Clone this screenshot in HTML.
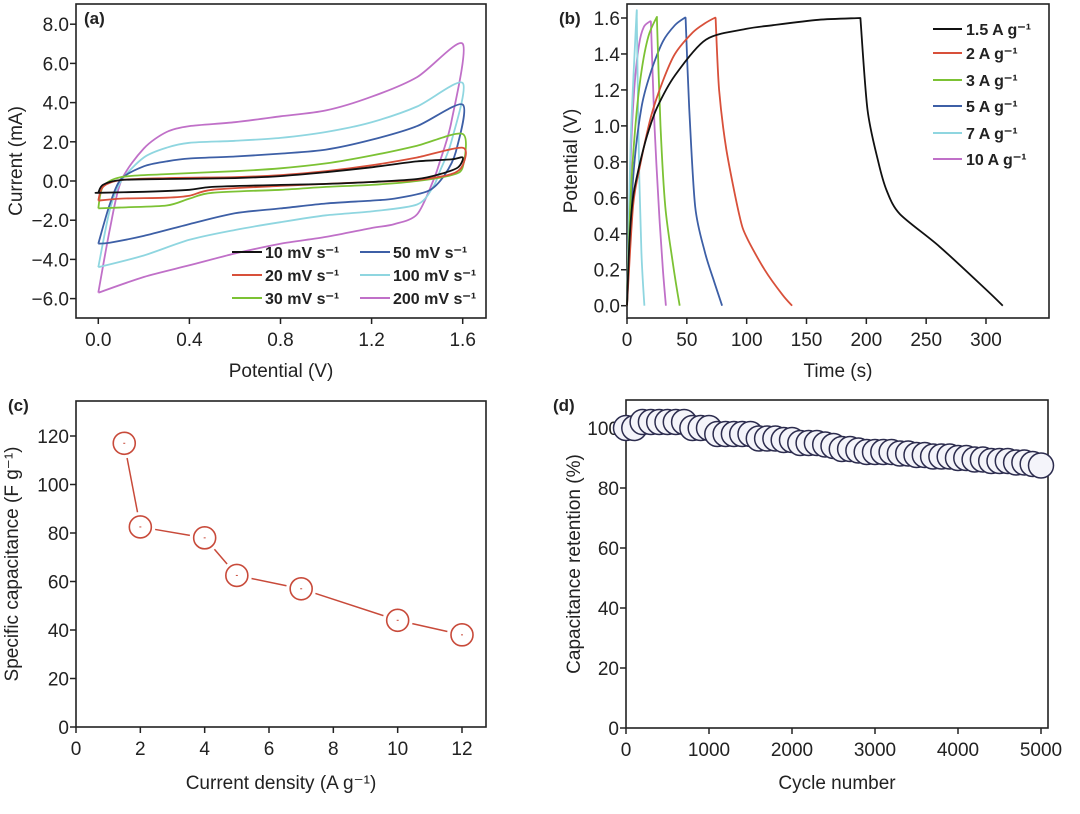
<!DOCTYPE html>
<html><head><meta charset="utf-8"><style>
html,body{margin:0;padding:0;background:#fff;}
svg{display:block;font-family:"Liberation Sans",Arial,sans-serif;}
</style></head><body>
<svg id="fig" width="1080" height="814" viewBox="0 0 1080 814" xmlns="http://www.w3.org/2000/svg"></svg>
<script>
// ---------- Panel (a) data ----------
const cvLabels = ["10 mV s\u207B\u00B9","20 mV s\u207B\u00B9","30 mV s\u207B\u00B9","50 mV s\u207B\u00B9","100 mV s\u207B\u00B9","200 mV s\u207B\u00B9"];
const cvColors = ["#111111","#d8503a","#7cc234","#3d5fa6","#8fd6e0","#c070c8"];
const cv10V = [0,0.02,0.1,0.3,0.6,0.8,1.0,1.2,1.4,1.55,1.6,1.58,1.5,1.4,1.2,1.0,0.8,0.5,0.4,0.2,0,0];
const cv10I = [-0.6,-0.2,0.05,0.1,0.15,0.25,0.45,0.7,1.0,1.1,1.2,0.7,0.35,0.1,-0.05,-0.15,-0.2,-0.3,-0.45,-0.55,-0.6,-0.6];
const cv20V = [0,0.02,0.1,0.3,0.6,0.8,1.0,1.2,1.4,1.6,1.6,1.55,1.4,1.2,1.0,0.8,0.5,0.4,0.3,0.1,0];
const cv20I = [-1.0,-0.3,0.05,0.15,0.2,0.3,0.5,0.8,1.2,1.7,0.8,0.35,0.05,-0.05,-0.15,-0.25,-0.45,-0.75,-0.85,-0.9,-1.0];
const cv30V = [0,0.02,0.1,0.3,0.6,0.8,1.0,1.2,1.4,1.6,1.6,1.55,1.4,1.2,1.0,0.8,0.5,0.4,0.3,0.1,0];
const cv30I = [-1.4,-0.3,0.2,0.35,0.5,0.65,0.9,1.3,1.8,2.4,0.7,0.3,0,-0.2,-0.3,-0.45,-0.6,-0.9,-1.25,-1.35,-1.4];
const cv50V = [0,0.05,0.1,0.2,0.3,0.4,0.6,0.8,1.0,1.2,1.4,1.6,1.57,1.52,1.45,1.3,1.2,1.0,0.8,0.6,0.4,0.2,0.05,0];
const cv50I = [-3.2,-1.2,0.1,0.75,1.0,1.15,1.25,1.4,1.6,2.1,2.8,3.9,1.5,0.3,-0.5,-0.9,-1.0,-1.15,-1.4,-1.65,-2.2,-2.8,-3.15,-3.2];
const cv100V = [0,0.05,0.1,0.2,0.3,0.4,0.6,0.8,1.0,1.2,1.4,1.6,1.55,1.5,1.47,1.4,1.2,1.0,0.8,0.6,0.4,0.2,0];
const cv100I = [-4.4,-1.5,0,1.2,1.7,1.95,2.05,2.2,2.5,3.0,3.8,5.0,2.0,0.5,-0.3,-1.2,-1.55,-1.75,-2.1,-2.5,-3.0,-3.8,-4.4];
const cv200V = [0,0.05,0.1,0.2,0.3,0.4,0.6,0.8,1.0,1.2,1.4,1.6,1.55,1.5,1.47,1.4,1.3,1.2,1.0,0.8,0.6,0.4,0.2,0];
const cv200I = [-5.7,-2.5,0,1.66,2.5,2.8,3.0,3.3,3.6,4.3,5.3,7.0,3.0,1.0,0,-1.7,-2.2,-2.4,-2.85,-3.2,-3.7,-4.3,-4.9,-5.7];
const cvXTicks = [0,0.4,0.8,1.2,1.6];
const cvYTicks = [-6,-4,-2,0,2,4,6,8];

// ---------- Panel (b) data ----------
const gcdLabels = ["1.5 A g\u207B\u00B9","2 A g\u207B\u00B9","3 A g\u207B\u00B9","5 A g\u207B\u00B9","7 A g\u207B\u00B9","10 A g\u207B\u00B9"];
const gcdColors = ["#111111","#d8503a","#7cc234","#3d5fa6","#8fd6e0","#c070c8"];
const gcd15T = [0,2,5,10,17,25,40,66,100,122,160,195,201,210,217,228,261,300,314];
const gcd15V = [0,0.35,0.6,0.77,0.95,1.1,1.28,1.48,1.54,1.56,1.59,1.6,1.09,0.8,0.64,0.51,0.33,0.09,0];
const gcd2T = [0,5,10,20,30,40,55,65,73,74,77,83,94,100,115,130,138];
const gcd2V = [0,0.55,0.75,1.05,1.25,1.4,1.52,1.57,1.6,1.6,1.2,0.87,0.5,0.38,0.2,0.06,0];
const gcd3T = [0,3,7,12,18,24.5,25,28,32,38,44];
const gcd3V = [0,0.6,1.0,1.3,1.5,1.6,1.6,1.0,0.55,0.25,0];
const gcd5T = [0,5,12,20,30,40,48,49,52,57,65,72,79.5];
const gcd5V = [0,0.7,1.1,1.3,1.47,1.56,1.6,1.6,1.1,0.55,0.3,0.15,0];
const gcd7T = [0,3,7.8,8.2,10,12,14.5];
const gcd7V = [0,0.9,1.6,1.6,0.8,0.3,0];
const gcd10T = [0,3,6,10,14,19,20,23,27,30,32.5];
const gcd10V = [0,0.8,1.2,1.45,1.55,1.58,1.58,1.0,0.5,0.2,0];
const gcdXTicks = [0,50,100,150,200,250,300];
const gcdYTicks = [0,0.2,0.4,0.6,0.8,1.0,1.2,1.4,1.6];

// ---------- Panel (c) data ----------
const rateDensity = [1.5,2,4,5,7,10,12];
const rateCap = [117,82.5,78,62.5,57,44,38];
const rateXTicks = [0,2,4,6,8,10,12];
const rateYTicks = [0,20,40,60,80,100,120];

// ---------- Panel (d) data ----------
const cycleRetention = [100,100,102,102,102,102,102,102,100,100,100,98,98,98,98,98,96.5,96.5,96.5,96,96,95,95,95,94.5,94,93,93,92.5,92,92,92,92,91.5,91.5,91,91,90.5,90.5,90.5,90,90,89.5,89.5,89,89,89,88.5,88.5,88,87.5];
const cycleStep = 100;
const cycXTicks = [0,1000,2000,3000,4000,5000];
const cycYTicks = [0,20,40,60,80,100];

const NS="http://www.w3.org/2000/svg";
const svg=document.getElementById('fig');
function mk(tag,attrs,parent){const e=document.createElementNS(NS,tag);for(const k in attrs)e.setAttribute(k,attrs[k]);(parent||svg).appendChild(e);return e;}
function txt(s,x,y,size,anchor,parent,weight){const t=mk('text',{x:x,y:y,'font-size':size,'text-anchor':anchor||'middle',fill:'#222'},parent);if(weight)t.setAttribute('font-weight',weight);t.textContent=s;return t;}
function lin(d0,d1,r0,r1){return v=>r0+(v-d0)*(r1-r0)/(d1-d0);}

function axesBox(name,x0,y0,x1,y1,xs,ys,xt,yt,xfmt,yfmt,xtitle,ytitle,xtY,ytX,tag,tagX,tagY){
  const g=mk('g',{},svg);
  
  
  const b=mk('rect',{x:x0,y:y0,width:x1-x0,height:y1-y0,fill:'none',stroke:'#222','stroke-width':1.6},g);
  
  
  xt.forEach(v=>{const x=xs(v);mk('line',{x1:x,x2:x,y1:y1,y2:y1+6,stroke:'#222','stroke-width':1.5},g);
    const t=txt(xfmt(v),x,y1+28,19,'middle',g);
    
    });
  yt.forEach(v=>{const y=ys(v);mk('line',{x1:x0-6,x2:x0,y1:y,y2:y,stroke:'#222','stroke-width':1.5},g);
    const t=txt(yfmt(v),x0-7,y+7,19,'end',g);
    
    });
  const xtl=txt(xtitle,(x0+x1)/2,xtY,19,'middle',g);
  
  
  const cy=(y0+y1)/2;
  const ytl=mk('text',{x:ytX,y:cy,'font-size':19,'text-anchor':'middle',fill:'#222',transform:`rotate(-90 ${ytX} ${cy})`},g);
  ytl.innerHTML=ytitle;
  
  
  const pl=txt(tag,tagX,tagY,17,'start',g,'bold');
  
  
  return g;
}
function smoothSeg(P,first){
  let d=first?'M'+P[0][0].toFixed(1)+','+P[0][1].toFixed(1):'';
  for(let i=0;i<P.length-1;i++){
    const p0=P[Math.max(0,i-1)],p1=P[i],p2=P[i+1],p3=P[Math.min(P.length-1,i+2)];
    const t=0.14;
    const c1=[p1[0]+(p2[0]-p0[0])*t,p1[1]+(p2[1]-p0[1])*t];
    const c2=[p2[0]-(p3[0]-p1[0])*t,p2[1]-(p3[1]-p1[1])*t];
    d+=` C${c1[0].toFixed(1)},${c1[1].toFixed(1)} ${c2[0].toFixed(1)},${c2[1].toFixed(1)} ${p2[0].toFixed(1)},${p2[1].toFixed(1)}`;
  }
  return d;
}
function curve(xsArr,ysArr,xs,ys,color,name,split){
  const P=xsArr.map((v,i)=>[xs(v),ys(ysArr[i])]);
  let d;
  if(split){
    // split charge / discharge at the last point of maximum value so the corner stays sharp
    let m=0;ysArr.forEach((v,i)=>{if(v>=ysArr[m])m=i;});
    d=smoothSeg(P.slice(0,m+1),true)+smoothSeg(P.slice(m),false);
  } else d=smoothSeg(P,true);
  const p=mk('path',{d:d,fill:'none',stroke:color,'stroke-width':1.8,'stroke-linejoin':'round'});
  
  
  return p;
}

// Panel a
{
  const xs=lin(0,1.6,98.3,462.7), ys=lin(0,2,181,141.8);
  axesBox('cv',76,4,486,318,xs,ys,cvXTicks,cvYTicks,v=>v.toFixed(1),v=>(v<0?'\u2212':'')+Math.abs(v).toFixed(1),'Potential (V)','Current (mA)',377,22,'(a)',84,24);
  const V=[cv10V,cv20V,cv30V,cv50V,cv100V,cv200V], I=[cv10I,cv20I,cv30I,cv50I,cv100I,cv200I];
  for(let k=5;k>=0;k--) curve(V[k],I[k],xs,ys,cvColors[k],'cv-curve-'+k,false);
  const pos=[[232,257],[232,280],[232,303],[360,257],[360,280],[360,303]];
  cvLabels.forEach((l,k)=>{const g=mk('g',{});
    
    
    mk('line',{x1:pos[k][0],x2:pos[k][0]+30,y1:pos[k][1]-5,y2:pos[k][1]-5,stroke:cvColors[k],'stroke-width':2},g);
    txt(l,pos[k][0]+33,pos[k][1]+1,16,'start',g,'bold');});
}
// Panel b
{
  const xs=lin(0,300,627,986), ys=lin(0,1.6,305.7,18);
  axesBox('gcd',627,4,1049,318,xs,ys,gcdXTicks,gcdYTicks,v=>String(v),v=>v.toFixed(1),'Time (s)','Potential (V)',377,577,'(b)',559,24);
  const T=[gcd15T,gcd2T,gcd3T,gcd5T,gcd7T,gcd10T], P=[gcd15V,gcd2V,gcd3V,gcd5V,gcd7V,gcd10V];
  for(let k=5;k>=0;k--) curve(T[k],P[k],xs,ys,gcdColors[k],'gcd-curve-'+k,true);
  const rows=[29,53,80,106,133,159];
  gcdLabels.forEach((l,k)=>{const g=mk('g',{});
    
    
    mk('line',{x1:933,x2:962,y1:rows[k],y2:rows[k],stroke:gcdColors[k],'stroke-width':2},g);
    txt(l,966,rows[k]+6,16,'start',g,'bold');});
}
// Panel c
{
  const xs=lin(0,12,76,462), ys=lin(0,120,727,436);
  axesBox('rate',76,401,486,727,xs,ys,rateXTicks,rateYTicks,v=>String(v),v=>String(v),'Current density (A g\u207B\u00B9)','Specific capacitance (F g\u207B\u00B9)',789,18,'(c)',8,411);
  const R=11;
  for(let i=0;i<rateDensity.length-1;i++){
    const ax=xs(rateDensity[i]),ay=ys(rateCap[i]),bx=xs(rateDensity[i+1]),by=ys(rateCap[i+1]);
    const d=Math.hypot(bx-ax,by-ay),ux=(bx-ax)/d,uy=(by-ay)/d,g=R+4;
    const l=mk('line',{x1:ax+ux*g,y1:ay+uy*g,x2:bx-ux*g,y2:by-uy*g,stroke:'#c84a3a','stroke-width':1.5});
    
    
  }
  rateDensity.forEach((v,i)=>{
    const c=mk('circle',{cx:xs(v),cy:ys(rateCap[i]),r:R,fill:'#fff',stroke:'#c84a3a','stroke-width':1.6});
    
    
    mk('line',{x1:xs(v)-1,x2:xs(v)+1,y1:ys(rateCap[i]),y2:ys(rateCap[i]),stroke:'#c84a3a','stroke-width':1});
  });
}
// Panel d
{
  const xs=lin(0,5000,626,1041), ys=lin(0,100,728,428);
  axesBox('cycle',626,400,1048,728,xs,ys,cycXTicks,cycYTicks,v=>String(v),v=>String(v),'Cycle number','Capacitance retention (%)',789,580,'(d)',553,411);
  cycleRetention.forEach((v,i)=>{
    const c=mk('circle',{cx:xs(i*cycleStep),cy:ys(v),r:12.5,fill:'#f4f4fa',stroke:'#2c2c4e','stroke-width':1.5});
    
    
  });
}
</script>
</body></html>
